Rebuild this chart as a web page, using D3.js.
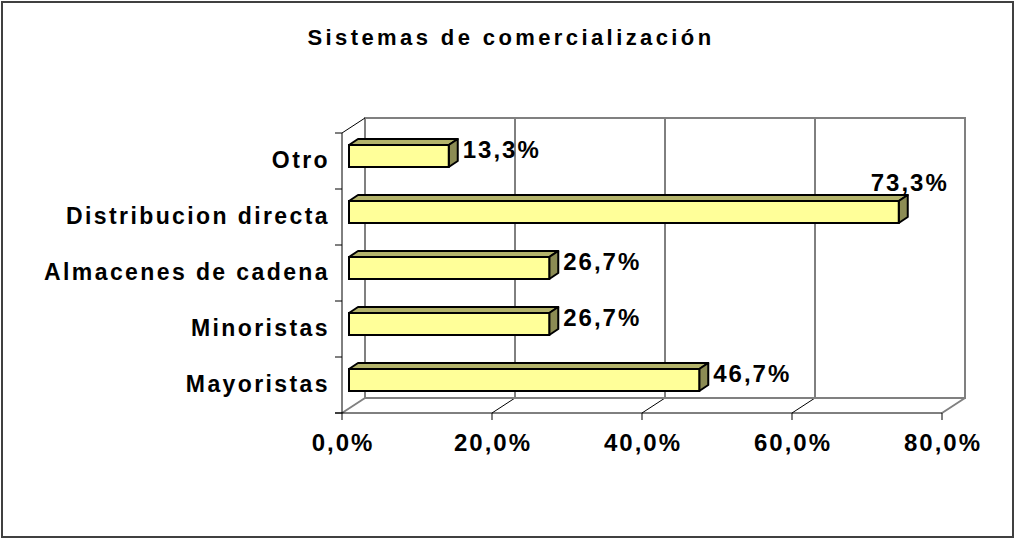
<!DOCTYPE html>
<html>
<head>
<meta charset="utf-8">
<script src="https://cdn.jsdelivr.net/npm/d3@7"></script>
<style>
  body { margin: 0; background: #fff; }
  text { font-family: "Liberation Sans", Arial, sans-serif; font-weight: bold; fill: #000; }
</style>
</head>
<body>
<script>
// data
var titleText = "Sistemas de comercialización";
var categories = ["Otro", "Distribucion directa", "Almacenes de cadena", "Minoristas", "Mayoristas"];
var values = [13.3, 73.3, 26.7, 26.7, 46.7];
var tickValues = [0, 20, 40, 60, 80];

var width = 1016,
    height = 540;

// 3d offsets (wall depth and bar depth)
var wallDx = 23, wallDy = -15;
var barOff = 7, barOffY = -5;
var barDx = 9, barDy = -6;
var barH = 22;

var svg = d3.select("body")
    .append("svg")
    .attr("width", width)
    .attr("height", height);

//scales
var x = d3.scaleLinear()
    .domain([0, 80])
    .range([342, 942]);

var y = d3.scaleBand()
    .domain(categories)
    .range([133, 413]);

var fmt = function(v){
    return d3.format(".1f")(v).replace(".", ",") + "%";
};

// outer border
svg.append("rect")
    .attr("x", 2).attr("y", 2)
    .attr("width", 1011).attr("height", 535)
    .attr("fill", "#fff")
    .attr("stroke", "#404040")
    .attr("stroke-width", 2);

// title
svg.append("text")
    .attr("x", 511)
    .attr("y", 45)
    .attr("text-anchor", "middle")
    .style("font-size", "22px")
    .style("letter-spacing", "3.4px")
    .text(titleText);

var y0 = y.range()[0], y1 = y.range()[1];
var gray = "#808080";

// back wall gridlines
svg.selectAll(".grid")
    .data(tickValues.slice(1, -1))
    .enter()
    .append("line")
    .attr("x1", function(d){ return x(d) + wallDx; })
    .attr("x2", function(d){ return x(d) + wallDx; })
    .attr("y1", y0 + wallDy)
    .attr("y2", y1 + wallDy)
    .attr("stroke", "#000")
    .attr("stroke-width", 1);

// floor diagonals
svg.selectAll(".diag")
    .data(tickValues)
    .enter()
    .append("line")
    .attr("x1", function(d){ return x(d); })
    .attr("y1", y1)
    .attr("x2", function(d){ return x(d) + wallDx; })
    .attr("y2", y1 + wallDy)
    .attr("stroke", function(d, i){ return (i == 0 || i == tickValues.length - 1) ? gray : "#000"; })
    .attr("stroke-width", function(d, i){ return (i == 0 || i == tickValues.length - 1) ? 2 : 1; });

// back wall frame (top, right, floor back edge, left back edge)
var xmin = x(0) + wallDx, xmax = x(80) + wallDx;
svg.append("path")
    .attr("d", "M" + xmin + "," + (y1 + wallDy) + "V" + (y0 + wallDy) + "H" + xmax + "V" + (y1 + wallDy) + "H" + xmin)
    .attr("fill", "none")
    .attr("stroke", gray)
    .attr("stroke-width", 2);

// left wall front edge + top diagonal
svg.append("path")
    .attr("d", "M" + x(0) + "," + y1 + "V" + y0 + "L" + xmin + "," + (y0 + wallDy))
    .attr("fill", "none")
    .attr("stroke", "#000")
    .attr("stroke-width", 1);

// front floor axis
svg.append("line")
    .attr("x1", x(0) - 7).attr("x2", x(80))
    .attr("y1", y1).attr("y2", y1)
    .attr("stroke", "#000");

// category ticks
var bounds = categories.map(function(c){ return y(c); }).concat([y1]);
svg.selectAll(".ytick")
    .data(bounds)
    .enter()
    .append("line")
    .attr("x1", x(0) - 7).attr("x2", x(0))
    .attr("y1", function(d){ return d; })
    .attr("y2", function(d){ return d; })
    .attr("stroke", "#000");

// x ticks
svg.selectAll(".xtick")
    .data(tickValues)
    .enter()
    .append("line")
    .attr("x1", function(d){ return x(d); })
    .attr("x2", function(d){ return x(d); })
    .attr("y1", y1).attr("y2", y1 + 7)
    .attr("stroke", "#000");

// x tick labels
svg.selectAll(".xlab")
    .data(tickValues)
    .enter()
    .append("text")
    .attr("x", function(d){ return x(d) + 1; })
    .attr("y", 451)
    .attr("text-anchor", "middle")
    .style("font-size", "24px")
    .style("letter-spacing", "2px")
    .text(function(d){ return fmt(d); });

// category labels
svg.selectAll(".ylab")
    .data(categories)
    .enter()
    .append("text")
    .attr("x", 330)
    .attr("y", function(d){ return y(d) + y.bandwidth() / 2 + 7; })
    .attr("text-anchor", "end")
    .style("font-size", "23px")
    .style("letter-spacing", "2.4px")
    .text(function(d){ return d; });

// bars
var bars = svg.selectAll(".bar")
    .data(categories)
    .enter()
    .append("g")
    .attr("class", "bar");

function faceTop(c){ return y(c) + y.bandwidth() / 2 + barOffY - barH / 2; }

bars.append("path") // top face
    .attr("d", function(c, i){
        var l = x(0) + barOff, r = x(values[i]) + barOff, t = faceTop(c);
        return "M" + l + "," + t + "L" + (l + barDx) + "," + (t + barDy) + "H" + (r + barDx) + "L" + r + "," + t + "Z";
    })
    .attr("fill", "#B3B36B")
    .attr("stroke", "#000")
    .attr("stroke-width", 2)
    .attr("stroke-linejoin", "round");

bars.append("path") // side face
    .attr("d", function(c, i){
        var r = x(values[i]) + barOff, t = faceTop(c);
        return "M" + r + "," + t + "L" + (r + barDx) + "," + (t + barDy) + "V" + (t + barDy + barH) + "L" + r + "," + (t + barH) + "Z";
    })
    .attr("fill", "#8C8C54")
    .attr("stroke", "#000")
    .attr("stroke-width", 2)
    .attr("stroke-linejoin", "round");

bars.append("rect") // front face
    .attr("x", x(0) + barOff)
    .attr("y", function(c){ return faceTop(c); })
    .attr("width", function(c, i){ return x(values[i]) - x(0); })
    .attr("height", barH)
    .attr("fill", "#FFFF99")
    .attr("stroke", "#000")
    .attr("stroke-width", 2);

// value labels
bars.append("text")
    .style("font-size", "24px")
    .style("letter-spacing", "2px")
    .each(function(c, i){
        var r = x(values[i]) + barOff + barDx, t = faceTop(c);
        var el = d3.select(this).text(fmt(values[i]));
        if (r + 90 > xmax) {
            // no room on the right, put it above
            el.attr("x", r + 2).attr("y", t - 10).attr("text-anchor", "middle");
        } else {
            el.attr("x", r + 5).attr("y", t + barH / 2 + 2);
        }
    });
</script>
</body>
</html>
